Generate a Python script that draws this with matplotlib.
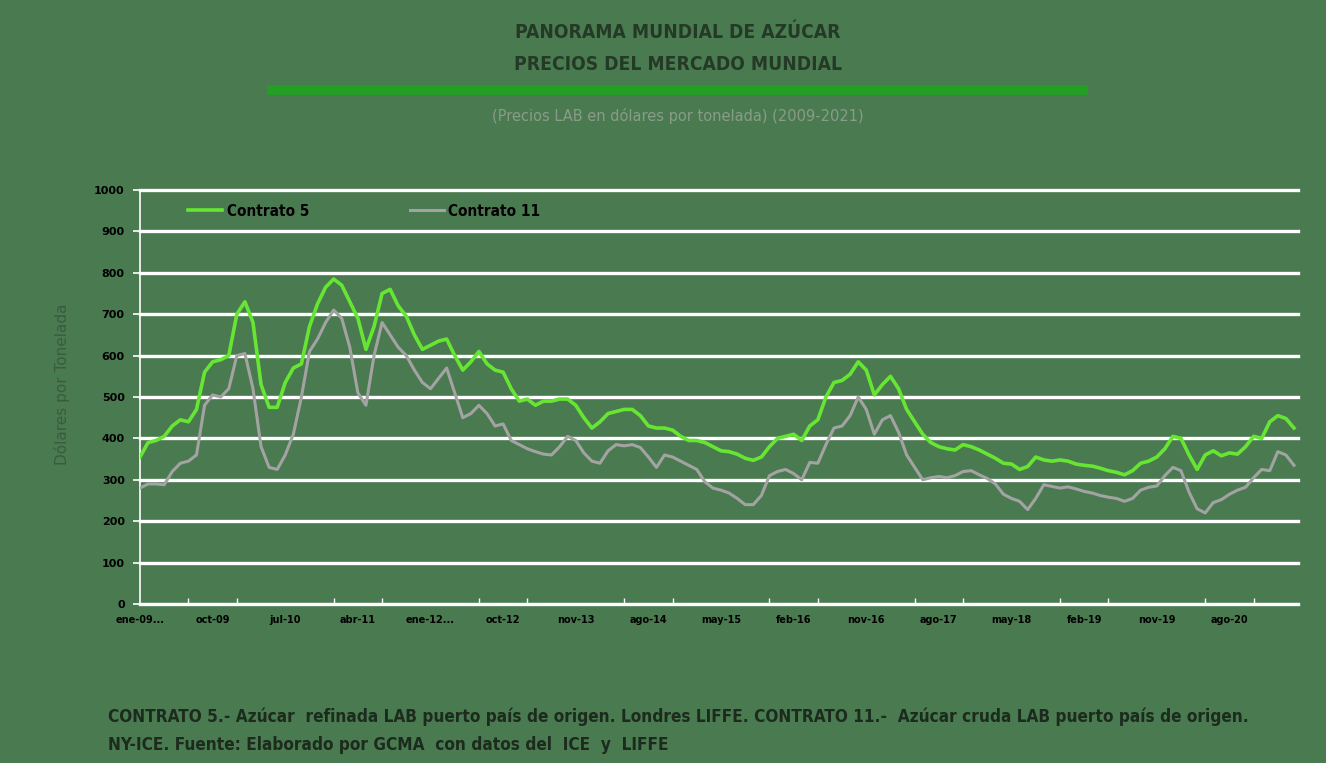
import numpy as np
import matplotlib
matplotlib.use("Agg")
import matplotlib.pyplot as plt
from matplotlib.font_manager import fontManager

# ---------------- data ----------------
tick_labels = ["ene-09...", "oct-09", "jul-10", "abr-11", "ene-12...", "oct-12",
               "nov-13", "ago-14", "may-15", "feb-16", "nov-16", "ago-17",
               "may-18", "feb-19", "nov-19", "ago-20"]

contrato5 = [355, 390, 395, 405, 430, 445, 440, 470, 560, 585, 590, 600, 700, 730, 680, 530,
             475, 475, 535, 570, 580, 670, 725, 765, 785, 770, 730, 690, 615, 670, 750, 760,
             720, 695, 650, 615, 625, 635, 640, 600, 565, 585, 610, 580, 565, 560, 520, 490,
             495, 480, 490, 490, 495, 495, 480, 450, 425, 440, 460, 465, 470, 470, 455, 430,
             425, 425, 420, 405, 395, 395, 390, 380, 370, 368, 362, 352, 347, 355, 380, 400,
             405, 410, 395, 430, 445, 500, 535, 540, 555, 585, 565, 505, 530, 550, 520, 470,
             440, 410, 390, 380, 375, 372, 385, 380, 372, 362, 352, 340, 338, 325, 332, 355,
             348, 345, 348, 345, 338, 335, 333, 328, 322, 318, 312, 322, 340, 345, 355, 375,
             405, 400, 360, 325, 360, 370, 358, 365, 362, 380, 405, 400, 440, 455, 448, 425]

contrato11 = [280, 290, 290, 288, 320, 340, 345, 360, 480, 505, 500, 520, 600, 605, 520, 380,
              330, 325, 360, 410, 500, 610, 640, 680, 710, 690, 620, 510, 480, 600, 680, 650,
              620, 600, 565, 535, 520, 545, 570, 510, 450, 460, 480, 460, 430, 435, 395, 385,
              375, 368, 362, 360, 380, 405, 395, 365, 345, 340, 370, 385, 382, 385, 378, 355,
              330, 360, 355, 345, 335, 325, 295, 280, 275, 268, 255, 240, 240, 262, 310, 320,
              325, 315, 300, 342, 340, 385, 425, 430, 455, 500, 470, 410, 445, 455, 415, 360,
              330, 300, 305, 308, 305, 310, 320, 322, 312, 303, 290, 265, 255, 248, 228, 255,
              288, 284, 280, 283, 278, 272, 268, 262, 258, 255, 248, 255, 275, 282, 285, 310,
              330, 322, 270, 230, 220, 245, 252, 265, 275, 282, 305, 325, 322, 368, 360, 335]

series_names = ["Contrato 5", "Contrato 11"]
y_ticks = [0, 100, 200, 300, 400, 500, 600, 700, 800, 900, 1000]

# ---------------- style ----------------
BG = "#4a7a50"
FAM = ["DejaVu Sans"]
has_cond = any(f.name == "DejaVu Sans" and f.stretch == "condensed" for f in fontManager.ttflist)
STRETCH = "condensed" if has_cond else "normal"

fig = plt.figure(figsize=(13.26, 7.63), dpi=100, facecolor=BG)
ax = fig.add_axes([140 / 1326, 1 - 604 / 763, (1298 - 140) / 1326, (604 - 190) / 763])
ax.set_facecolor(BG)

x = np.arange(len(contrato5))
l11, = ax.plot(x, contrato11, color="#a3a3a3", lw=2.2, zorder=3)
l5, = ax.plot(x, contrato5, color="#66e633", lw=2.6, zorder=4)

ax.set_xlim(0, len(contrato5) - 0.5)
ax.set_ylim(0, 1000)
ax.set_yticks(y_ticks)
ax.set_yticklabels([str(v) for v in y_ticks], fontsize=8, fontweight="bold",
                   color="black", family=FAM)
ax.yaxis.grid(True, color="white", lw=2.4, zorder=1)
for gl in ax.get_ygridlines():
    gl.set_clip_on(False)
ax.set_axisbelow(True)

label_pos = np.arange(len(tick_labels)) * 9
ax.set_xticks(label_pos)
ax.set_xticklabels(tick_labels, fontsize=7, fontweight="bold", color="black", family=FAM)
ax.set_xticks(np.arange(0, len(contrato5), 6), minor=True)
ax.tick_params(axis="x", which="major", length=0, pad=8)
ax.tick_params(axis="x", which="minor", length=4, color="white", direction="in", width=1)
ax.tick_params(axis="y", length=5, color="white", width=1.2, pad=6)

for s in ["top", "right"]:
    ax.spines[s].set_visible(False)
ax.spines["left"].set_color("white")
ax.spines["left"].set_linewidth(1.2)
ax.spines["bottom"].set_color("white")
ax.spines["bottom"].set_linewidth(1.5)

ax.set_ylabel("Dólares por Tonelada", fontsize=11, color="#3a5c3d", family=FAM,
              labelpad=22)
ax.yaxis.set_label_coords(-70 / 1158, 0.53)

# legend
leg = ax.legend([l5, l11], series_names, loc="upper left", bbox_to_anchor=(0.03, 1.0),
                ncol=2, frameon=False, columnspacing=6.6, handlelength=2.2,
                handletextpad=0.3,
                prop={"family": FAM, "weight": "bold", "size": 11, "stretch": STRETCH})
for t in leg.get_texts():
    t.set_color("black")
leg.set_zorder(6)

# titles
fig.text(0.511, 1 - 33 / 763, "PANORAMA MUNDIAL DE AZÚCAR", ha="center", va="center",
         fontsize=13.8, fontweight="bold", color="#243a26", family=FAM, fontstretch=STRETCH)
fig.text(0.511, 1 - 65 / 763, "PRECIOS DEL MERCADO MUNDIAL", ha="center", va="center",
         fontsize=13.8, fontweight="bold", color="#243a26", family=FAM, fontstretch=STRETCH)
fig.add_artist(plt.Line2D([272 / 1326, 1083 / 1326], [1 - 90 / 763, 1 - 90 / 763],
                          color="#23a023", lw=7, transform=fig.transFigure))
fig.text(0.511, 1 - 116 / 763, "(Precios LAB en dólares por tonelada) (2009-2021)",
         ha="center", va="center", fontsize=10.5, color="#8a9c88", family=FAM)

# footer
foot_size = 12.3 if has_cond else 10
fig.text(108 / 1326, 1 - 717 / 763,
         "CONTRATO 5.- Azúcar  refinada LAB puerto país de origen. Londres LIFFE. "
         "CONTRATO 11.-  Azúcar cruda LAB puerto país de origen.",
         ha="left", va="center", fontsize=foot_size, fontweight="bold", color="#1c2b1d",
         family=FAM, fontstretch=STRETCH)
fig.text(108 / 1326, 1 - 745 / 763,
         "NY-ICE. Fuente: Elaborado por GCMA  con datos del  ICE  y  LIFFE",
         ha="left", va="center", fontsize=foot_size, fontweight="bold", color="#1c2b1d",
         family=FAM, fontstretch=STRETCH)

fig.savefig("out.png", dpi=100, facecolor=BG)
